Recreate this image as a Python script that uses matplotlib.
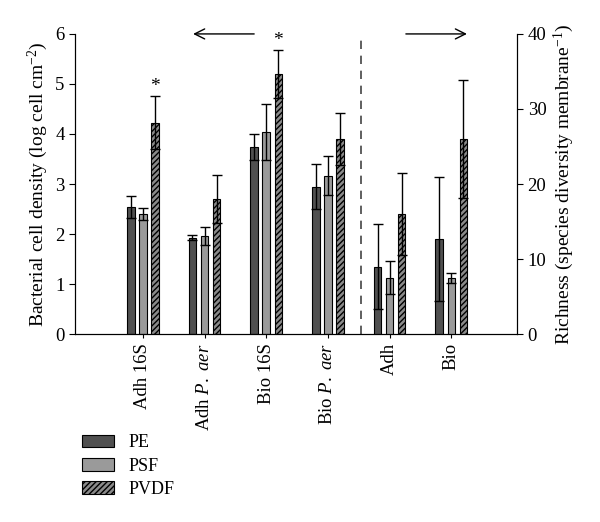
import matplotlib
matplotlib.use("Agg")
import matplotlib.pyplot as plt
import numpy as np

plt.rcParams['font.family'] = ['Liberation Serif', 'DejaVu Serif']
plt.rcParams['mathtext.fontset'] = 'custom'
plt.rcParams['mathtext.rm'] = 'Liberation Serif'
plt.rcParams['mathtext.it'] = 'Liberation Serif:italic'
plt.rcParams['hatch.linewidth'] = 1.0
plt.rcParams['hatch.color'] = '#2a2a2a'

categories = ["Adh 16S", "Adh $\\it{P.\\ aer}$", "Bio 16S", "Bio $\\it{P.\\ aer}$", "Adh", "Bio"]
series = ["PE", "PSF", "PVDF"]

# left-axis groups (log cell cm^-2)
density_pe = [2.55, 1.93, 3.73, 2.95]
density_pe_err = [0.22, 0.05, 0.26, 0.45]
density_psf = [2.40, 1.97, 4.04, 3.17]
density_psf_err = [0.12, 0.18, 0.56, 0.39]
density_pvdf = [4.22, 2.70, 5.19, 3.90]
density_pvdf_err = [0.53, 0.48, 0.48, 0.52]

# right-axis groups (richness)
rich_pe = [9.0, 12.7]
rich_pe_err = [5.7, 8.3]
rich_psf = [7.5, 7.5]
rich_psf_err = [2.2, 0.7]
rich_pvdf = [16.0, 26.0]
rich_pvdf_err = [5.4, 7.8]

star_groups = [0, 2]

fig = plt.figure(figsize=(6.0, 5.22), dpi=100)
ax = fig.add_axes([0.125, 0.360, 0.737, 0.575])
ax2 = ax.twinx()

colors = ['#505050', '#9a9a9a', '#8a8a8a']
hatches = [None, None, '//////']
offsets = [-0.195, 0, 0.195]
width = 0.12

x_left = np.arange(4)
x_right = np.arange(4, 6)

left_vals = [density_pe, density_psf, density_pvdf]
left_errs = [density_pe_err, density_psf_err, density_pvdf_err]
right_vals = [rich_pe, rich_psf, rich_pvdf]
right_errs = [rich_pe_err, rich_psf_err, rich_pvdf_err]

handles = []
for i in range(3):
    h = ax.bar(x_left + offsets[i], left_vals[i], width, color=colors[i], edgecolor='black',
               linewidth=0.8, hatch=hatches[i], label=series[i], zorder=2)
    handles.append(h)
    ax.errorbar(x_left + offsets[i], left_vals[i], yerr=left_errs[i], fmt='none',
                ecolor='black', elinewidth=1.0, capsize=3.5, capthick=1.0, zorder=3)
    ax2.bar(x_right + offsets[i], right_vals[i], width, color=colors[i], edgecolor='black',
            linewidth=0.8, hatch=hatches[i], zorder=2)
    ax2.errorbar(x_right + offsets[i], right_vals[i], yerr=right_errs[i], fmt='none',
                 ecolor='black', elinewidth=1.0, capsize=3.5, capthick=1.0, zorder=3)

for g in star_groups:
    top = density_pvdf[g] + density_pvdf_err[g]
    ax.text(g + offsets[2], top + 0.02, '*', ha='center', va='bottom', fontsize=14)

ax.set_xlim(-1.10, 6.07)
ax.set_ylim(0, 6)
ax2.set_ylim(0, 40)
ax.set_yticks(range(0, 7))
ax2.set_yticks([0, 10, 20, 30, 40])
ax.set_xticks(np.arange(6))
ax.set_xticklabels(categories, rotation=90, fontsize=13.5)
ax.tick_params(axis='y', labelsize=13.5, direction='out', length=4)
ax2.tick_params(axis='y', labelsize=13.5, direction='out', length=4)
ax.tick_params(axis='x', direction='out', length=3)

for a in (ax, ax2):
    a.spines['top'].set_visible(False)
ax.set_ylabel('Bacterial cell density (log cell cm$^{-2}$)', fontsize=14)
ax2.set_ylabel('Richness (species diversity membrane$^{-1}$)', fontsize=14)

ax.plot([3.54, 3.54], [0, 6], color='#444444', linestyle=(0, (5, 4)), linewidth=1.2,
        zorder=1, clip_on=False)

ax.annotate('', xy=(0.77, 6.0), xytext=(1.85, 6.0),
            arrowprops=dict(arrowstyle='->', color='black', lw=1.0, mutation_scale=18),
            annotation_clip=False)
ax.annotate('', xy=(5.30, 6.0), xytext=(4.22, 6.0),
            arrowprops=dict(arrowstyle='->', color='black', lw=1.0, mutation_scale=18),
            annotation_clip=False)

fig.legend(handles=handles, labels=series, loc='upper left', bbox_to_anchor=(0.137, 0.168),
           frameon=False, fontsize=13, handlelength=1.75, handleheight=0.7,
           labelspacing=0.35, handletextpad=0.8, borderaxespad=0, borderpad=0)

fig.savefig('out.png', dpi=100)
